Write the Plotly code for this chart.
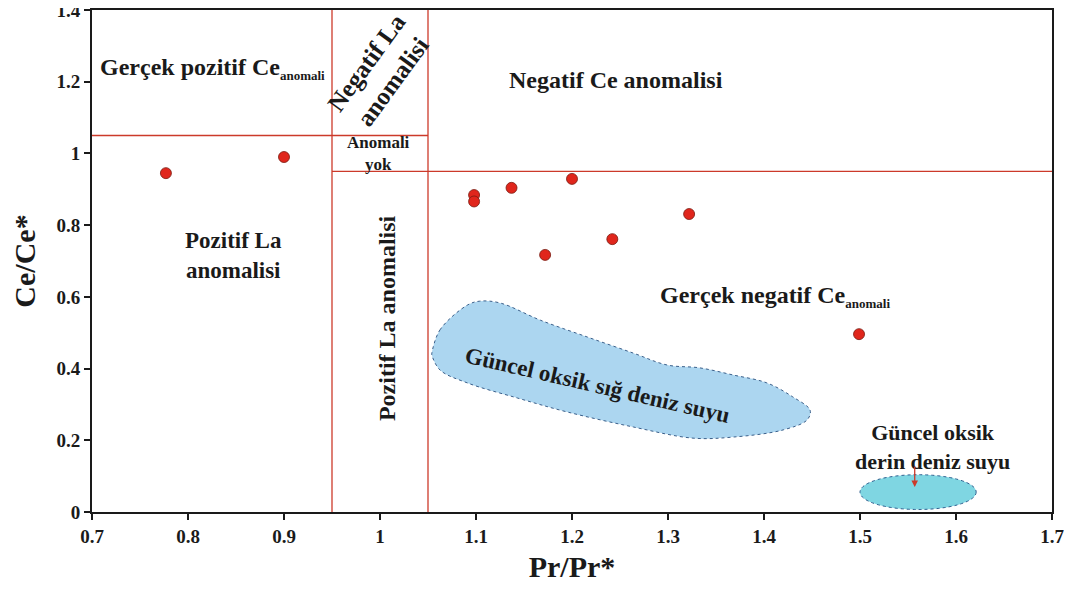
import plotly.graph_objects as go

# sample points (Pr/Pr*, Ce/Ce*)
pr_vals = [0.777, 0.900, 1.098, 1.098, 1.137, 1.200, 1.172, 1.242, 1.322, 1.499]
ce_vals = [0.945, 0.990, 0.884, 0.866, 0.904, 0.929, 0.717, 0.761, 0.831, 0.496]

# field of recent oxic shallow seawater (outline)
shallow_x = [1.054, 1.0625, 1.091, 1.104, 1.125, 1.167, 1.216, 1.264, 1.299, 1.333, 1.368, 1.403,
             1.430, 1.448, 1.445, 1.420, 1.368, 1.326, 1.264, 1.195, 1.143, 1.091, 1.0625, 1.054]
shallow_y = [0.443, 0.508, 0.577, 0.588, 0.583, 0.535, 0.488, 0.443, 0.410, 0.402, 0.382, 0.360,
             0.321, 0.284, 0.257, 0.229, 0.209, 0.206, 0.237, 0.279, 0.318, 0.360, 0.396, 0.438]

# field of recent oxic deep seawater (ellipse bounds)
deep_x = [1.500, 1.621]
deep_y = [0.007, 0.104]

# field boundaries
x_bounds = [0.95, 1.05]
y_bounds = [1.05, 0.95]

x_ticks = [0.7, 0.8, 0.9, 1.0, 1.1, 1.2, 1.3, 1.4, 1.5, 1.6, 1.7]
x_labels = ["0.7", "0.8", "0.9", "1", "1.1", "1.2", "1.3", "1.4", "1.5", "1.6", "1.7"]
y_ticks = [0, 0.2, 0.4, 0.6, 0.8, 1.0, 1.2, 1.4]
y_labels = ["0", "0.2", "0.4", "0.6", "0.8", "1", "1.2", "1.4"]

FONT = "Liberation Serif"
RED = "#cc3a2a"
INK = "#1a1a1a"
SUB = "<sub><span style='font-size:13px'>anomali</span></sub>"

fig = go.Figure()

fig.add_trace(go.Scatter(
    x=shallow_x + shallow_x[:1], y=shallow_y + shallow_y[:1],
    mode="lines", line=dict(shape="spline", smoothing=1.0, color="#3a5f8a", width=1, dash="dot"),
    fill="toself", fillcolor="#acd6f0", hoverinfo="skip", showlegend=False))

fig.add_shape(type="circle", xref="x", yref="y",
              x0=deep_x[0], x1=deep_x[1], y0=deep_y[0], y1=deep_y[1],
              fillcolor="#7fd6e2", line=dict(color="#2f5f8f", width=1, dash="dot"), layer="below")

# boundary lines
fig.add_shape(type="line", x0=x_bounds[0], x1=x_bounds[0], y0=0, y1=1.4, line=dict(color=RED, width=1.3))
fig.add_shape(type="line", x0=x_bounds[1], x1=x_bounds[1], y0=0, y1=1.4, line=dict(color=RED, width=1.3))
fig.add_shape(type="line", x0=0.7, x1=x_bounds[1], y0=y_bounds[0], y1=y_bounds[0], line=dict(color=RED, width=1.3))
fig.add_shape(type="line", x0=x_bounds[0], x1=1.7, y0=y_bounds[1], y1=y_bounds[1], line=dict(color=RED, width=1.3))

fig.add_trace(go.Scatter(
    x=pr_vals, y=ce_vals, mode="markers",
    marker=dict(size=11, color="#e0261c", line=dict(color="#7a1a10", width=0.8)),
    showlegend=False))

def label(x, y, text, size=24, angle=0):
    fig.add_annotation(x=x, y=y, text=text, showarrow=False, textangle=angle,
                       font=dict(family=FONT, size=size, color=INK))

label(0.826, 1.236, "<b>Gerçek pozitif Ce" + SUB + "</b>", 24)
label(1.246, 1.205, "<b>Negatif Ce anomalisi</b>", 24)
label(1.0, 1.227, "<b>Negatif La<br>anomalisi</b>", 25, -54)
label(0.998, 1.0, "<b>Anomali<br>yok</b>", 17)
label(1.008, 0.54, "<b>Pozitif La anomalisi</b>", 24, -90)
label(0.847, 0.714, "<b>Pozitif La<br>anomalisi</b>", 23)
label(1.411, 0.602, "<b>Gerçek negatif Ce" + SUB + "</b>", 24)
label(1.227, 0.354, "<b>Güncel oksik sığ deniz suyu</b>", 23, 13)
label(1.575, 0.181, "<b>Güncel oksik<br>derin deniz suyu</b>", 22)

fig.add_annotation(x=1.557, y=0.07, ax=1.557, ay=0.131, xref="x", yref="y", axref="x", ayref="y",
                   text="", showarrow=True, arrowhead=2, arrowsize=1, arrowwidth=1.3, arrowcolor=RED)

axis_style = dict(ticks="outside", ticklen=6, tickwidth=2, tickcolor=INK,
                  showline=True, linecolor=INK, linewidth=2, mirror=True,
                  showgrid=False, zeroline=False, automargin=False,
                  ticklabeloverflow="allow",
                  tickfont=dict(family=FONT, size=19, color=INK))

fig.update_xaxes(range=[0.7, 1.7], tickvals=x_ticks, ticktext=["<b>%s</b>" % t for t in x_labels],
                 title=dict(text="<b>Pr/Pr*</b>", font=dict(family=FONT, size=30, color=INK), standoff=10),
                 **axis_style)
fig.update_yaxes(range=[0, 1.4], tickvals=y_ticks, ticktext=["<b>%s</b>" % t for t in y_labels],
                 title=dict(text="<b>Ce/Ce*</b>", font=dict(family=FONT, size=30, color=INK), standoff=12),
                 **axis_style)

# page body adds an 8px offset, so margins are trimmed to keep the plot box in place
fig.update_layout(width=1072, height=600, plot_bgcolor="white", paper_bgcolor="white",
                  margin=dict(l=84, r=28, t=2, b=96))

fig.write_html("out.html")
